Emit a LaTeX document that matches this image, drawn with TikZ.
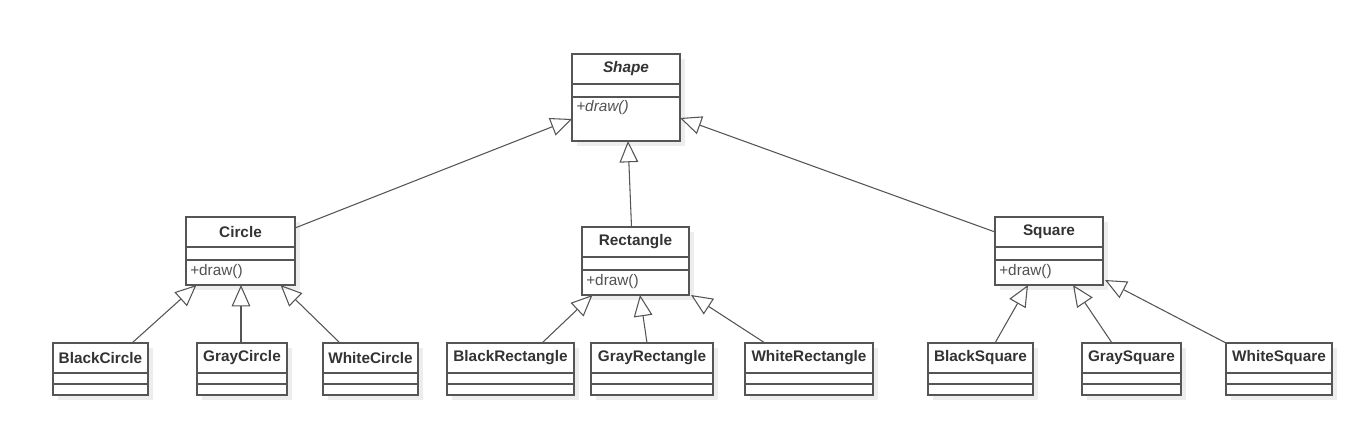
\documentclass[tikz,border=0pt]{standalone}
\usepackage{fontspec}
\setmainfont{Liberation Sans}
\usepackage{tikz}
\usetikzlibrary{calc,arrows.meta,shadows}

\definecolor{umlgray}{HTML}{555555}
\definecolor{umltext}{HTML}{333333}
\definecolor{umlshadow}{HTML}{EDEDED}

\tikzset{
    umlbox/.style={draw=umlgray, line width=1.1pt, fill=white, inner sep=0pt, outer sep=0pt,
        drop shadow={shadow xshift=3.5pt, shadow yshift=-3.5pt, fill=umlshadow, opacity=1}},
    umlline/.style={draw=umlgray, line width=1.1pt},
    umltitle/.style={text=umltext, font=\fontsize{11.5}{13}\selectfont\bfseries, inner sep=0pt},
    umlop/.style={text=umltext!85, font=\fontsize{11.5}{13}\selectfont, inner sep=0pt, anchor=west},
    generalize/.style={draw=umlgray, line width=0.8pt, -{Triangle[open, length=16pt, width=14pt]}},
}

% class box: name, left, top, width, attribute height, operation height, title
\newcommand{\umlclass}[7]{%
    \node[umlbox, anchor=north west, minimum width={#4*0.75pt}, minimum height={(30+#5+#6)*0.75pt}] (#1) at (#2,#3) {};
    \node[umltitle] (#1-title) at ($(#1.north)+(0,15)$) {#7};
    \draw[umlline] ($(#1.north west)+(0,30)$) -- ($(#1.north east)+(0,30)$);
    \draw[umlline] ($(#1.north west)+(0,30+#5)$) -- ($(#1.north east)+(0,30+#5)$);
}

\begin{document}
\begin{tikzpicture}[x=0.75pt, y=-0.75pt]
    \useasboundingbox (0,0) rectangle (1360,427);

    % Base class
    \umlclass{shape}{572}{54}{108}{13}{44}{\textit{Shape}}
    \node[umlop] (shape-op) at ($(shape.north west)+(4,54)$) {\textit{+draw()}};

    % Shapes
    \umlclass{circ}{186}{217}{109}{13}{25}{Circle}
    \node[umlop] (circ-op) at ($(circ.north west)+(4,55)$) {+draw()};
    \umlclass{rect}{582}{227}{107}{13}{25}{Rectangle}
    \node[umlop] (rect-op) at ($(rect.north west)+(4,55)$) {+draw()};
    \umlclass{square}{995}{217}{108}{13}{25}{Square}
    \node[umlop] (square-op) at ($(square.north west)+(4,55)$) {+draw()};

    % Coloured shapes
    \umlclass{blackcircle}{53}{343}{95}{11}{11}{BlackCircle}
    \umlclass{graycircle}{197}{343}{90}{11}{11}{GrayCircle}
    \umlclass{whitecircle}{323}{343}{95}{11}{11}{WhiteCircle}
    \umlclass{blackrect}{447}{343}{127}{11}{11}{BlackRectangle}
    \umlclass{grayrect}{591}{343}{122}{11}{11}{GrayRectangle}
    \umlclass{whiterect}{745}{343}{128}{11}{11}{WhiteRectangle}
    \umlclass{blacksquare}{928}{343}{105}{11}{11}{BlackSquare}
    \umlclass{graysquare}{1082}{343}{99}{11}{11}{GraySquare}
    \umlclass{whitesquare}{1226}{343}{106}{11}{11}{WhiteSquare}

    % Generalizations to Shape
    \draw[generalize] ($(circ.north east)+(0,11)$) -- ($(shape.north west)+(0,65)$);
    \draw[generalize] ($(rect.north)+(-4,0)$) -- ($(shape.south)+(2,0)$);
    \draw[generalize] ($(square.north west)+(0,15)$) -- ($(shape.north east)+(0,64)$);

    % Generalizations to Circle, Rectangle, Square
    \draw[generalize] ($(blackcircle.north)+(31.5,0)$) -- ($(circ.south)+(-44,0)$);
    \draw[generalize] ($(graycircle.north)+(-1,0)$) -- ($(circ.south)+(0.5,0)$);
    \draw[generalize] ($(whitecircle.north)+(-30.5,0)$) -- ($(circ.south)+(40,0)$);
    \draw[generalize] ($(blackrect.north)+(31.5,0)$) -- ($(rect.south)+(-43,0)$);
    \draw[generalize] ($(grayrect.north)+(-5,0)$) -- ($(rect.south)+(4.5,0)$);
    \draw[generalize] ($(whiterect.north)+(-44,0)$) -- ($(rect.south east)+(2,0)$);
    \draw[generalize] ($(blacksquare.north)+(14.5,0)$) -- ($(square.south)+(-21,0)$);
    \draw[generalize] ($(graysquare.north)+(-19.5,0)$) -- ($(square.south)+(24,0)$);
    \draw[generalize] (whitesquare.north west) -- ($(square.south east)+(2,-5)$);
\end{tikzpicture}
\end{document}
